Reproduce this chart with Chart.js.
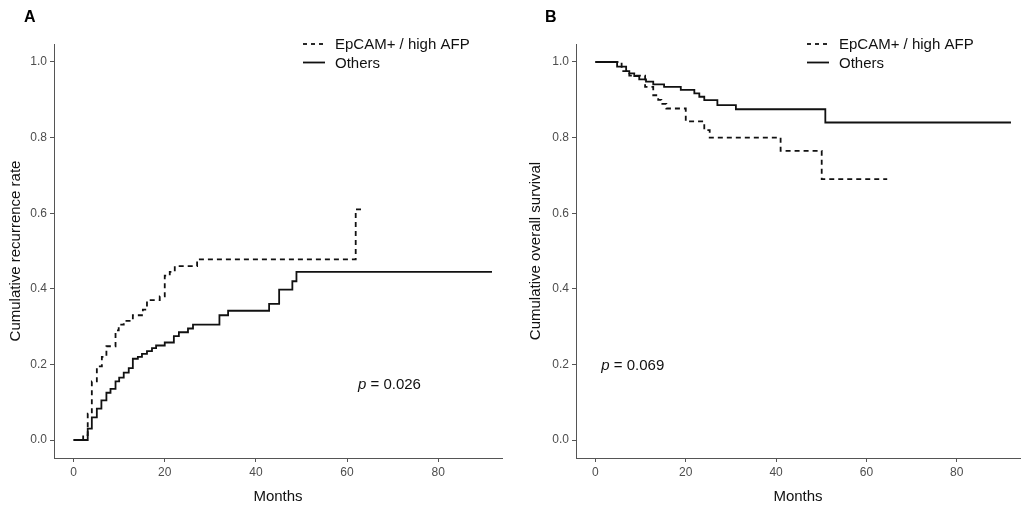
<!DOCTYPE html>
<html>
<head>
<meta charset="utf-8">
<script src="https://cdn.jsdelivr.net/npm/chart.js@4"></script>
<style>
  body { margin: 0; background: #fff; }
  #wrap { position: relative; width: 1021px; height: 508px; overflow: hidden; }
  .panel { position: absolute; top: 0; height: 508px; }
</style>
</head>
<body>
<div id="wrap">
  <div class="panel" style="left:0;width:515px"><canvas id="chart-a"></canvas></div>
  <div class="panel" style="left:520px;width:501px"><canvas id="chart-b"></canvas></div>
</div>
<script>
// Panel A - cumulative recurrence
const recOthersT = [0, 3.1, 4.0, 5.1, 6.1, 7.2, 8.1, 9.2, 10.0, 11.0, 12.1, 13.0, 14.1, 15.0, 16.1, 17.2, 18.1, 20.0, 22.0, 23.1, 25.1, 26.2, 32.0, 33.9, 42.9, 45.1, 48.0, 48.9, 91.8];
const recOthersY = [0, 0.03, 0.06, 0.083, 0.105, 0.125, 0.135, 0.155, 0.165, 0.178, 0.19, 0.215, 0.22, 0.228, 0.235, 0.243, 0.25, 0.258, 0.275, 0.285, 0.295, 0.305, 0.33, 0.342, 0.36, 0.398, 0.42, 0.445, 0.445];
const recEpcamT = [0, 2.1, 3.1, 4.0, 5.1, 6.2, 7.2, 9.2, 9.9, 11.0, 13.0, 15.2, 16.1, 18.9, 20.0, 21.1, 22.2, 27.1, 61.9, 63.4];
const recEpcamY = [0, 0.013, 0.07, 0.155, 0.195, 0.22, 0.248, 0.29, 0.305, 0.315, 0.33, 0.345, 0.37, 0.38, 0.435, 0.445, 0.46, 0.478, 0.61, 0.61];

// Panel B - overall survival
const osOthersT = [0, 4.8, 6.8, 7.5, 8.6, 9.7, 11.2, 12.8, 15.2, 18.9, 21.9, 23.0, 24.1, 27.0, 31.1, 50.9, 92.0];
const osOthersY = [1, 0.988, 0.976, 0.970, 0.963, 0.954, 0.948, 0.941, 0.934, 0.926, 0.917, 0.908, 0.899, 0.886, 0.875, 0.840, 0.840];
const osEpcamT = [0, 5.8, 7.5, 11.0, 12.8, 13.9, 14.6, 15.7, 20.0, 24.1, 25.3, 41.0, 50.1, 64.6];
const osEpcamY = [1, 0.976, 0.964, 0.934, 0.912, 0.90, 0.889, 0.877, 0.843, 0.82, 0.80, 0.765, 0.69, 0.69];

const xTicks = [0, 20, 40, 60, 80];
const yTicks = [0, 0.2, 0.4, 0.6, 0.8, 1.0];
const legendLabels = ['EpCAM+ / high AFP', 'Others'];

const FONT = "'Liberation Sans', Arial, Helvetica, sans-serif";
const DASH = [5, 4];

function pts(ts, ys) {
    return ts.map((t, i) => ({ x: t, y: ys[i] }));
}

// draws panel letter, legend and p value
const overlay = {
    id: 'overlay',
    afterDraw(chart, args, o) {
        const ctx = chart.ctx;
        ctx.save();
        ctx.fillStyle = '#000';
        ctx.font = 'bold 16px ' + FONT;
        ctx.textBaseline = 'middle';
        ctx.fillText(o.letter, o.letterX, 18);

        // legend
        ctx.font = '15px ' + FONT;
        ctx.strokeStyle = '#111';
        ctx.lineWidth = 1.8;
        legendLabels.forEach((lbl, i) => {
            const y = 44 + i * 18.5;
            ctx.setLineDash(i === 0 ? [4, 4] : []);
            ctx.beginPath();
            ctx.moveTo(o.legX, y);
            ctx.lineTo(o.legX + 22, y);
            ctx.stroke();
            ctx.fillStyle = '#111';
            ctx.fillText(lbl, o.legX + 32, y + 1);
        });
        ctx.setLineDash([]);

        // p value
        const px = chart.scales.x.getPixelForValue(o.pX);
        const py = chart.scales.y.getPixelForValue(o.pY);
        ctx.font = 'italic 15px ' + FONT;
        ctx.fillText('p', px, py);
        const w = ctx.measureText('p').width;
        ctx.font = '15px ' + FONT;
        ctx.fillText(' = ' + o.pText, px + w, py);
        ctx.restore();
    }
};

function makeChart(id, yTitle, othersT, othersY, epT, epY, yWidth, padRight, ov) {
    const ctx = document.getElementById(id).getContext('2d');
    return new Chart(ctx, {
        type: 'line',
        data: {
            datasets: [{
                label: legendLabels[0],
                data: pts(epT, epY),
                borderColor: '#111',
                borderWidth: 1.8,
                borderDash: DASH,
                stepped: true,
                pointRadius: 0,
                fill: false
            }, {
                label: legendLabels[1],
                data: pts(othersT, othersY),
                borderColor: '#111',
                borderWidth: 1.8,
                stepped: true,
                pointRadius: 0,
                fill: false
            }]
        },
        options: {
            responsive: true, maintainAspectRatio: false,
            animation: false,
            layout: { padding: { top: 44, right: padRight, left: 0, bottom: 0 } },
            plugins: {
                legend: { display: false },
                tooltip: { enabled: false },
                overlay: ov
            },
            scales: {
                x: {
                    type: 'linear',
                    min: -4.3, max: 94,
                    afterBuildTicks: s => { s.ticks = xTicks.map(v => ({ value: v })); },
                    afterFit: s => { s.height = 50; },
                    grid: { drawOnChartArea: false, drawTicks: true, tickLength: 4, color: '#555' },
                    border: { color: '#555', width: 1 },
                    ticks: { color: '#4d4d4d', font: { family: FONT, size: 12 }, padding: 3 },
                    title: { display: true, text: 'Months', color: '#111', font: { family: FONT, size: 15 }, padding: { top: 0, bottom: 2 } }
                },
                y: {
                    type: 'linear',
                    min: -0.0476, max: 1.0476,
                    afterBuildTicks: s => { s.ticks = yTicks.map(v => ({ value: v })); },
                    afterFit: s => { s.width = yWidth; },
                    grid: { drawOnChartArea: false, drawTicks: true, tickLength: 4, color: '#555' },
                    border: { color: '#555', width: 1 },
                    ticks: { color: '#4d4d4d', font: { family: FONT, size: 12 }, padding: 3, callback: v => v.toFixed(1) },
                    title: { display: true, text: yTitle, color: '#111', font: { family: FONT, size: 15 }, padding: { top: 7, bottom: 0 } }
                }
            }
        },
        plugins: [overlay]
    });
}

makeChart('chart-a', 'Cumulative recurrence rate', recOthersT, recOthersY, recEpcamT, recEpcamY, 54, 13,
    { letter: 'A', letterX: 24, legX: 303, pX: 62.4, pY: 0.145, pText: '0.026' });
makeChart('chart-b', 'Cumulative overall survival', osOthersT, osOthersY, osEpcamT, osEpcamY, 56, 1,
    { letter: 'B', letterX: 25, legX: 287, pX: 1.3, pY: 0.196, pText: '0.069' });
</script>
</body>
</html>
